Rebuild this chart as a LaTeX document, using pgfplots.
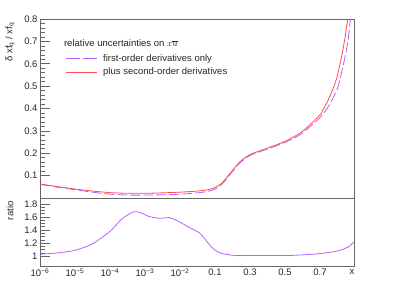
\documentclass[border=0pt]{standalone}
\usepackage{pgfplots}
\pgfplotsset{compat=1.18}
\usepackage{fontspec}
\setmainfont{Liberation Sans}
\definecolor{myred}{rgb}{1,0.3,0.3}
\definecolor{myviolet}{rgb}{0.72,0.38,1}
\definecolor{framegray}{gray}{0.4}
\pgfplotsset{
  rootstyle/.style={
    scale only axis, width=314pt,
    xmin=-6, xmax=2.97,
    axis line style={framegray, line width=0.7pt},
    tick style={framegray, line width=0.6pt},
    tick align=inside, tick pos=left,
    major tick length=10pt, minor tick length=5pt,
    xtick={-6,-5,-4,-3,-2,-1,0,1,2},
    xtick style={draw=none},
    minor xtick={-6,-5,-4,-3,-2,-1,0,1,2},
    /pgf/number format/assume math mode=true,
    ticklabel style={font=\fontsize{9.5}{11}\selectfont, text=black!85},
    label style={font=\fontsize{9.5}{11}\selectfont, text=black!85},
    yticklabel style={xshift=1pt},
    clip=true,
  },
}
\begin{document}
\begin{tikzpicture}[x=1pt,y=1pt]
\useasboundingbox (0,0) rectangle (394,283);
% ---------- top panel ----------
\begin{axis}[rootstyle,
  at={(40pt,85pt)}, anchor=south west, height=179pt,
  ymin=0, ymax=0.8,
  ytick={0.1,0.2,0.3,0.4,0.5,0.6,0.7,0.8},
  minor y tick num=4,
  xticklabels={},
  yticklabel style={/pgf/number format/fixed, /pgf/number format/precision=1},
  ylabel={δ xf\textsubscript{q} / xf\textsubscript{q}},
  ylabel style={at={(axis description cs:-0.0955,1)}, anchor=east},
]
\addplot[myviolet, line width=0.8pt, dash pattern=on 10pt off 3pt, smooth, tension=0.4] coordinates {
(-6,0.061) (-5.5,0.048) (-5,0.037) (-4.5,0.026) (-4,0.017) (-3.5,0.013) (-3,0.013)
(-2.5,0.0145) (-2,0.017) (-1.5,0.023) (-1.2,0.030) (-1.0,0.040) (-0.8,0.062)
(-0.57,0.105) (-0.3,0.155) (0,0.19) (0.5,0.219) (1.0,0.248) (1.43,0.283)
(1.71,0.318) (2.0,0.36) (2.2,0.40) (2.35,0.44) (2.5,0.49) (2.59,0.544) (2.7,0.62)
(2.79,0.694) (2.87,0.80) (2.93,0.88) (2.97,0.94)};
\addplot[myred, line width=0.8pt, smooth, tension=0.4] coordinates {
(-6,0.063) (-5.5,0.051) (-5,0.040) (-4.5,0.031) (-4,0.024) (-3.5,0.021) (-3,0.021)
(-2.5,0.023) (-2,0.026) (-1.5,0.031) (-1.2,0.037) (-1.0,0.047) (-0.8,0.067)
(-0.57,0.11) (-0.3,0.16) (0,0.194) (0.5,0.223) (1.0,0.253) (1.43,0.29)
(1.71,0.327) (2.0,0.372) (2.09,0.395) (2.24,0.44) (2.4,0.50) (2.49,0.544) (2.6,0.62)
(2.69,0.694) (2.79,0.80) (2.85,0.88) (2.9,0.95)};
% legend samples
\addplot[myviolet, line width=0.8pt, dash pattern=on 14pt off 3pt] coordinates {(-5.257,0.622) (-4.371,0.622)};
\addplot[myred, line width=0.8pt] coordinates {(-5.257,0.563) (-4.371,0.563)};
\node[anchor=west, inner sep=0pt, font=\fontsize{9.5}{11}\selectfont, text=black!85]
  at (axis description cs:0.076,0.866) {relative uncertainties on $x\overline{u}$};
\node[anchor=west, inner sep=0pt, font=\fontsize{9.5}{11}\selectfont, text=black!85]
  at (axis cs:-4.2,0.622) {first-order derivatives only};
\node[anchor=west, inner sep=0pt, font=\fontsize{9.5}{11}\selectfont, text=black!85]
  at (axis cs:-4.2,0.563) {plus second-order derivatives};
\end{axis}
% ---------- bottom panel ----------
\begin{axis}[rootstyle,
  at={(40pt,17pt)}, anchor=south west, height=68pt,
  ymin=0.85, ymax=1.89,
  ytick={1,1.2,1.4,1.6,1.8},
  minor y tick num=3,
  xticklabels={10\textsuperscript{−6},10\textsuperscript{−5},10\textsuperscript{−4},10\textsuperscript{−3},10\textsuperscript{−2},0.1,0.3,0.5,0.7},
  xticklabel style={yshift=1pt},
  ylabel={ratio},
  ylabel style={at={(axis description cs:-0.0955,1)}, anchor=east},
  xlabel={x},
  xlabel style={at={(axis description cs:0.994,-0.088)}, anchor=center},
]
\addplot[myviolet, line width=0.8pt, smooth] coordinates {
(-6,1.03) (-5.5,1.05) (-5,1.09) (-4.5,1.19) (-4.0,1.38) (-3.7,1.55) (-3.5,1.63)
(-3.3,1.68) (-3.1,1.66) (-2.9,1.61) (-2.6,1.58) (-2.3,1.59) (-2.15,1.56) (-1.9,1.49)
(-1.6,1.40) (-1.45,1.36) (-1.3,1.27) (-1.1,1.14) (-0.9,1.06) (-0.7,1.03) (-0.4,1.01)
(0,1.01) (1,1.01) (1.5,1.02) (2,1.04) (2.5,1.08) (2.8,1.14) (2.97,1.22)};
\end{axis}
\end{tikzpicture}
\end{document}
